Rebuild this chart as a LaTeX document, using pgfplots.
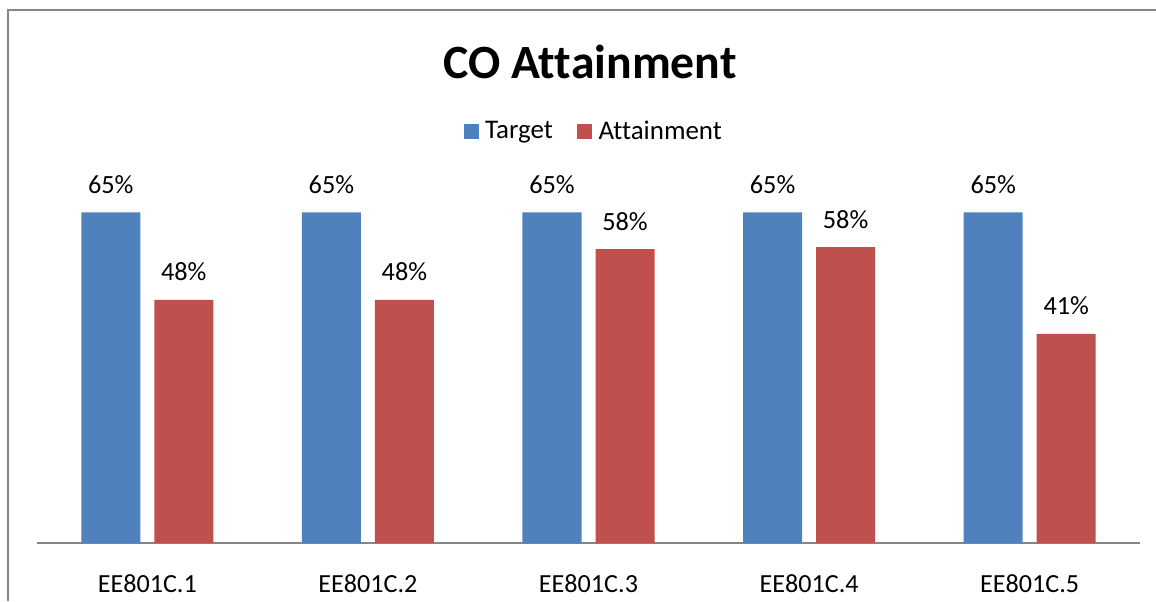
\documentclass[border=0pt]{standalone}
\usepackage{pgfplots}
\pgfplotsset{compat=1.18}
\usepackage{fontspec}
\setmainfont{Carlito}[Ligatures=CommonOff]
\definecolor{cblue}{HTML}{4F81BD}
\definecolor{cred}{HTML}{C0504D}
\definecolor{cgray}{HTML}{868686}
\begin{document}
\begin{tikzpicture}[x=0.75pt,y=0.75pt]
\begin{axis}[
  at={(27.75pt,43.5pt)}, anchor=south west,
  scale only axis, width=827.25pt, height=267pt,
  ybar, bar width=0.2675,
  xmin=-0.5, xmax=4.5, ymin=0, ymax=70,
  axis y line=none,
  axis x line*=bottom,
  x axis line style={-, draw=cgray, line width=1.1pt},
  xtick=data,
  xticklabels={EE801C.1,EE801C.2,EE801C.3,EE801C.4,EE801C.5},
  xtick style={draw=none},
  xticklabel style={anchor=base, yshift=-33pt, font=\fontsize{19.6}{22}\selectfont},
  nodes near coords={\pgfmathprintnumber{\pgfplotspointmeta}\%},
  /pgf/number format/assume math mode=true,
  /pgf/number format/.cd, fixed, precision=0, /pgfplots/.cd,
  every node near coord/.append style={anchor=base, yshift=14.25pt, font=\fontsize{19.7}{22}\selectfont, text=black},
  legend columns=2,
  legend style={draw=none, fill=none, at={(0.505,1.157)}, anchor=center,
    font=\fontsize{20.2}{23}\selectfont,
    /tikz/every odd column/.append style={column sep=3pt},
    /tikz/every even column/.append style={column sep=16pt}},
  legend image code/.code={\path[#1,draw=none] (0pt,-5.6pt) rectangle (11.25pt,5.6pt);},
]
\addplot[fill=cblue, draw=none, bar shift=-0.1655] coordinates {(0,65) (1,65) (2,65) (3,65) (4,65)};
\addplot[fill=cred, draw=none, bar shift=0.1655] coordinates {(0,47.8) (1,47.8) (2,57.8) (3,58.2) (4,41.1)};
\legend{Target,Attainment}
\end{axis}
\draw[cgray,line width=1.5pt] (8,0) -- (8,591) -- (1156,591);
\node[font=\fontsize{35.8}{40}\selectfont\bfseries] at (590,539) {CO Attainment};
\pgfresetboundingbox
\path[use as bounding box] (0,0) rectangle (1156,601);
\end{tikzpicture}
\end{document}
